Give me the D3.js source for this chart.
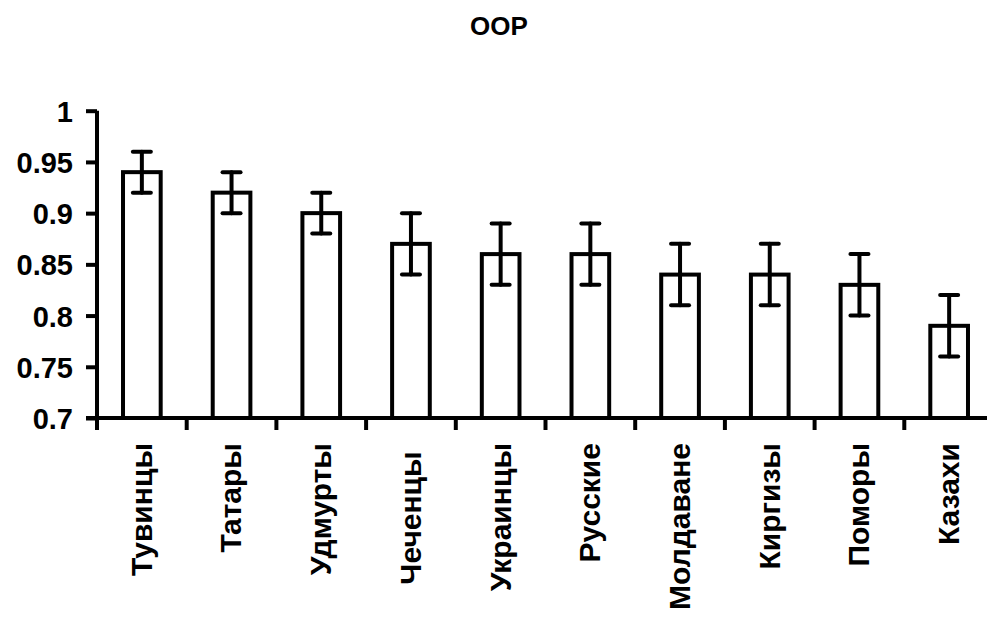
<!DOCTYPE html>
<html>
<head>
<meta charset="utf-8">
<script src="https://cdn.jsdelivr.net/npm/d3@7"></script>
<style>
  body { margin: 0; background: #fff; }
  svg text { font-family: "Liberation Sans", Arial, sans-serif; font-weight: bold; fill: #000; }
</style>
</head>
<body>
<svg id="chart" width="987" height="621"></svg>
<script>
// === Dane ===
const categories = ["Тувинцы", "Татары", "Удмурты", "Чеченцы ", "Украинцы", "Русские", "Молдаване", "Киргизы", "Поморы", "Казахи"];
const values = [0.94, 0.92, 0.90, 0.87, 0.86, 0.86, 0.84, 0.84, 0.83, 0.79];
const errors = [0.02, 0.02, 0.02, 0.03, 0.03, 0.03, 0.03, 0.03, 0.03, 0.03];
const yTicks = [0.7, 0.75, 0.8, 0.85, 0.9, 0.95, 1];
const yTickLabels = ["0.7", "0.75", "0.8", "0.85", "0.9", "0.95", "1"];
const title = "OOP";

const W = 987, H = 621;
const svg = d3.select("#chart");

const x = d3.scaleBand()
    .domain(categories)
    .range([97, 994])
    .paddingInner(0.58)
    .paddingOuter(0.29);

const y = d3.scaleLinear()
    .domain([0.7, 1])
    .range([418, 110.7]);

const step = x.step();
const lw = 4;

// tytuł
svg.append("text")
    .attr("x", 499).attr("y", 35)
    .attr("text-anchor", "middle")
    .style("font-size", "26px")
    .text(title);

// słupki
svg.selectAll("rect.bar")
    .data(categories)
    .enter().append("rect")
    .attr("class", "bar")
    .attr("x", d => x(d))
    .attr("width", x.bandwidth())
    .attr("y", (d, i) => y(values[i]))
    .attr("height", (d, i) => y(0.7) - y(values[i]))
    .attr("fill", "#fff")
    .attr("stroke", "#000")
    .attr("stroke-width", lw);

// słupki błędów
const err = svg.selectAll("g.err")
    .data(categories)
    .enter().append("g")
    .attr("class", "err")
    .attr("stroke", "#000")
    .attr("stroke-width", lw)
    .attr("stroke-linecap", "round");
const cx = d => x(d) + x.bandwidth() / 2;
err.append("line")
    .attr("x1", cx).attr("x2", cx)
    .attr("y1", (d, i) => y(values[i] - errors[i]))
    .attr("y2", (d, i) => y(values[i] + errors[i]));
[-1, 1].forEach(s => {
    err.append("line")
        .attr("x1", d => cx(d) - 9).attr("x2", d => cx(d) + 9)
        .attr("y1", (d, i) => y(values[i] + s * errors[i]))
        .attr("y2", (d, i) => y(values[i] + s * errors[i]));
});

// oś Y
const yAxis = svg.append("g")
    .attr("transform", "translate(97,0)")
    .call(d3.axisLeft(y)
        .tickValues(yTicks)
        .tickFormat((d, i) => yTickLabels[i])
        .tickSize(11)
        .tickSizeOuter(0)
        .tickPadding(13));
yAxis.select(".domain").remove();
yAxis.selectAll("line").attr("stroke", "#000").attr("stroke-width", lw);
yAxis.selectAll("text").style("font-size", "29px").attr("dy", "0.36em");
svg.append("line")
    .attr("x1", 97).attr("x2", 97)
    .attr("y1", y(1)).attr("y2", y(0.7) + 12)
    .attr("stroke", "#000").attr("stroke-width", lw);

// oś X
svg.append("line")
    .attr("x1", 86).attr("x2", W)
    .attr("y1", y(0.7)).attr("y2", y(0.7))
    .attr("stroke", "#000").attr("stroke-width", lw);
svg.selectAll("line.xtick")
    .data(categories)
    .enter().append("line")
    .attr("class", "xtick")
    .attr("x1", d => x(d) - step * 0.29).attr("x2", d => x(d) - step * 0.29)
    .attr("y1", y(0.7)).attr("y2", y(0.7) + 12)
    .attr("stroke", "#000").attr("stroke-width", lw);

svg.selectAll("text.xlab")
    .data(categories)
    .enter().append("text")
    .attr("class", "xlab")
    .attr("transform", d => `translate(${cx(d)},443) rotate(-90)`)
    .attr("text-anchor", "end")
    .attr("dy", "0.33em")
    .style("font-size", "30px")
    .style("white-space", "pre")
    .text(d => d);
</script>
</body>
</html>
